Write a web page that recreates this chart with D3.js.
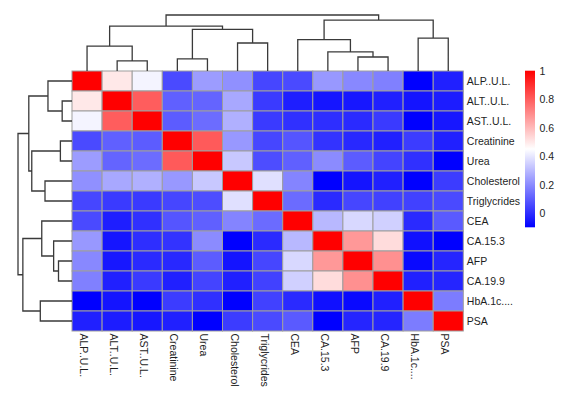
<!DOCTYPE html>
<html>
<head>
<meta charset="utf-8">
<script src="https://cdn.jsdelivr.net/npm/d3@7/dist/d3.min.js"></script>
<style>
  html, body { margin: 0; padding: 0; background: #fff; }
  svg { display: block; font-family: "Liberation Sans", Arial, sans-serif; }
</style>
</head>
<body>
<svg id="chart" width="574" height="406"></svg>
<script>
// ---- Data ----
const labels = ["ALP..U.L.", "ALT..U.L.", "AST..U.L.", "Creatinine", "Urea", "Cholesterol",
  "Triglycrides", "CEA", "CA.15.3", "AFP", "CA.19.9", "HbA.1c....", "PSA"];

// correlation matrix (rows/cols in dendrogram leaf order)
const values = [
  [1.00, 0.50, 0.426, 0.06, 0.236, 0.21, 0.05, 0.06, 0.228, 0.193, 0.176, -0.10, -0.03],
  [0.50, 1.00, 0.80, 0.107, 0.116, 0.262, 0.025, -0.035, -0.055, -0.05, -0.03, -0.057, -0.04],
  [0.426, 0.80, 1.00, 0.098, 0.133, 0.28, 0.025, 0.003, 0.00, -0.01, 0.025, -0.10, -0.05],
  [0.06, 0.107, 0.098, 1.00, 0.806, 0.228, 0.05, 0.083, 0.01, -0.013, -0.03, 0.03, -0.03],
  [0.236, 0.116, 0.133, 0.806, 1.00, 0.331, 0.066, 0.107, 0.20, 0.098, 0.047, 0.003, -0.10],
  [0.21, 0.262, 0.28, 0.228, 0.331, 1.00, 0.383, 0.185, -0.10, -0.057, -0.03, -0.10, 0.03],
  [0.05, 0.025, 0.025, 0.05, 0.066, 0.383, 1.00, 0.13, -0.01, 0.05, 0.04, 0.04, 0.06],
  [0.06, -0.035, 0.003, 0.083, 0.107, 0.185, 0.13, 1.00, 0.297, 0.366, 0.349, -0.01, 0.094],
  [0.228, -0.055, 0.00, 0.01, 0.20, -0.10, -0.01, 0.297, 1.00, 0.672, 0.525, -0.065, -0.10],
  [0.193, -0.05, -0.01, -0.013, 0.098, -0.057, 0.05, 0.366, 0.672, 1.00, 0.689, -0.08, -0.02],
  [0.176, -0.03, 0.025, -0.03, 0.047, -0.03, 0.04, 0.349, 0.525, 0.689, 1.00, -0.03, -0.02],
  [-0.10, -0.057, -0.10, 0.03, 0.003, -0.10, 0.04, -0.01, -0.065, -0.08, -0.03, 1.00, 0.167],
  [-0.03, -0.04, -0.05, -0.03, -0.10, 0.03, 0.06, 0.094, -0.10, -0.02, -0.02, 0.167, 1.00]
];

// clustering tree (same for rows and columns), heights relative to root
const tree = {h: 1.0, children: [
  {h: 0.80, children: [
    {h: 0.445, children: [{leaf: 0}, {h: 0.182, children: [{leaf: 1}, {leaf: 2}]}]},
    {h: 0.745, children: [
      {h: 0.215, children: [{leaf: 3}, {leaf: 4}]},
      {h: 0.50, children: [{leaf: 5}, {leaf: 6}]}
    ]}
  ]},
  {h: 0.91, children: [
    {h: 0.56, children: [{leaf: 7}, {h: 0.34, children: [{leaf: 8}, {h: 0.25, children: [{leaf: 9}, {leaf: 10}]}]}]},
    {h: 0.587, children: [{leaf: 11}, {leaf: 12}]}
  ]}
]};

const legendTicks = [0, 0.2, 0.4, 0.6, 0.8, 1];
const colorMin = -0.1, colorMax = 1.0;

// ---- Layout ----
const svg = d3.select("#chart");
const n = labels.length;
const gridL = 72, gridR = 463.3, gridT = 71, gridB = 331;

const x = d3.scaleBand().domain(d3.range(n)).range([gridL, gridR]);
const y = d3.scaleBand().domain(d3.range(n)).range([gridT, gridB]);
const mid = (colorMin + colorMax) / 2;
const color = d3.scaleLinear().domain([colorMin, mid, colorMax]).range(["#0000ff", "#ffffff", "#ff0000"]);

// cells
const cells = [];
values.forEach((row, i) => row.forEach((v, j) => cells.push({i, j, v})));
svg.append("g").selectAll("rect").data(cells).join("rect")
  .attr("x", d => x(d.j)).attr("y", d => y(d.i))
  .attr("width", x.bandwidth()).attr("height", y.bandwidth())
  .attr("fill", d => color(d.v))
  .attr("stroke", "#9e9e9e").attr("stroke-width", 1);

// dendrograms
function layoutTree(posScale) {
  const root = d3.hierarchy(tree);
  root.eachAfter(nd => {
    if (!nd.children) { nd.pos = posScale(nd.data.leaf) + posScale.bandwidth() / 2; nd.hh = 0; }
    else { nd.pos = d3.mean(nd.children, c => c.pos); nd.hh = nd.data.h; }
  });
  return root;
}
function dendroPath(root, hScale, vertical) {
  // vertical: columns dendrogram (pos on x, height on y)
  const p = d3.path();
  root.each(nd => {
    if (!nd.children) return;
    const [a, b] = nd.children;
    const H = hScale(nd.hh);
    if (vertical) {
      p.moveTo(a.pos, hScale(a.hh)); p.lineTo(a.pos, H); p.lineTo(b.pos, H); p.lineTo(b.pos, hScale(b.hh));
    } else {
      p.moveTo(hScale(a.hh), a.pos); p.lineTo(H, a.pos); p.lineTo(H, b.pos); p.lineTo(hScale(b.hh), b.pos);
    }
  });
  return p.toString();
}
const colH = d3.scaleLinear().domain([0, 1]).range([gridT, 15]);
const rowH = d3.scaleLinear().domain([0, 1]).range([gridL, 18]);
svg.append("path").attr("d", dendroPath(layoutTree(x), colH, true))
  .attr("fill", "none").attr("stroke", "#3a3a3a").attr("stroke-width", 1.3);
svg.append("path").attr("d", dendroPath(layoutTree(y), rowH, false))
  .attr("fill", "none").attr("stroke", "#3a3a3a").attr("stroke-width", 1.3);

// row labels
svg.append("g").selectAll("text").data(labels).join("text")
  .attr("x", gridR + 3.5).attr("y", (d, i) => y(i) + y.bandwidth() / 2 + 4)
  .attr("font-size", 10.5).attr("fill", "#1e1e1e").text(d => d);

// column labels
svg.append("g").selectAll("text").data(labels).join("text")
  .attr("transform", (d, i) => `translate(${x(i) + x.bandwidth() / 2 - 7},${gridB + 2.5}) rotate(90)`)
  .attr("font-size", 10.5).attr("fill", "#1e1e1e").text(d => d);

// legend
const legY = d3.scaleLinear().domain([colorMin, colorMax]).range([227.3, 70.7]);
const defs = svg.append("defs");
const grad = defs.append("linearGradient").attr("id", "lg").attr("x1", 0).attr("y1", 1).attr("x2", 0).attr("y2", 0);
grad.selectAll("stop").data([colorMin, mid, colorMax]).join("stop")
  .attr("offset", d => (d - colorMin) / (colorMax - colorMin)).attr("stop-color", d => color(d));
svg.append("rect").attr("x", 525).attr("y", legY(colorMax)).attr("width", 10)
  .attr("height", legY(colorMin) - legY(colorMax)).attr("fill", "url(#lg)");
svg.append("g").selectAll("text").data(legendTicks).join("text")
  .attr("x", 539.5).attr("y", d => legY(d) + 4)
  .attr("font-size", 10.5).attr("fill", "#1e1e1e").text(d => d3.format("")(d));
</script>
</body>
</html>
